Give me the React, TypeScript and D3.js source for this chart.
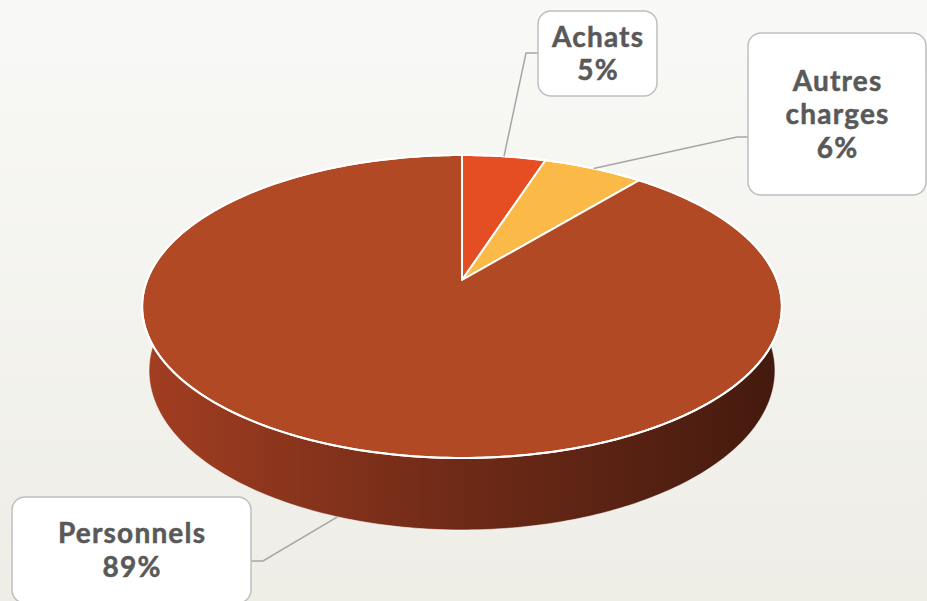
import React from "react";
import * as d3 from "d3";

const categories = ["Achats", "Autres charges", "Personnels"];
const values = [5, 6, 89];
const topColors = ["#E54D22", "#FBBA48", "#B14A24"];
const sideColors = [["#B83C1A", "#8A2A10"], ["#D79A30", "#A06A18"], ["#A33E21", "#431A0E"]];

// label box layout (pixels)
const boxes = [
  { x: 538, y: 11, w: 119, h: 85, elbow: [526, 53], join: [538, 53] },
  { x: 748, y: 33, w: 178, h: 162, elbow: [737, 137], join: [748, 137] },
  { x: 12, y: 497, w: 239, h: 106, elbow: [263, 561], join: [251, 561] },
];

const W = 927, HGT = 601;
const CX = 462, CY = 280;
const F = 1592, DIST = 5.055;
const PHI = Math.asin(0.4663);
const DEPTH = 0.2323;

function project(a: number, b: number, h: number): [number, number] {
  const X = a;
  const Y = b * Math.sin(PHI) + h * Math.cos(PHI);
  const Z = b * Math.cos(PHI) - h * Math.sin(PHI);
  return [CX + (F * X) / (DIST + Z), CY - (F * Y) / (DIST + Z)];
}

function arcPoints(a0: number, a1: number, h: number): [number, number][] {
  const n = Math.max(2, Math.ceil(((a1 - a0) / (Math.PI * 2)) * 360));
  const pts: [number, number][] = [];
  for (let i = 0; i <= n; i++) {
    const t = a0 + ((a1 - a0) * i) / n;
    pts.push(project(Math.sin(t), Math.cos(t), h));
  }
  return pts;
}

export default function App() {
  const pie = d3.pie<number>().sort(null).value((d) => d);
  const arcs = pie(values);
  const line = d3.line<[number, number]>().x((d) => d[0]).y((d) => d[1]);
  const center = project(0, 0, 0);
  const total = d3.sum(values);

  const walls = arcs.map((a, i) => {
    const top = arcPoints(a.startAngle, a.endAngle, 0);
    const bot = arcPoints(a.startAngle, a.endAngle, -DEPTH).reverse();
    return { i, d: line([...top, ...bot]) + "Z" };
  });
  const tops = arcs.map((a, i) => {
    const pts = arcPoints(a.startAngle, a.endAngle, 0);
    return { i, d: line([center, ...pts]) + "Z" };
  });
  const rim = line(arcPoints(0, Math.PI * 2, 0)) + "Z";
  const bottomRim = line(arcPoints(Math.PI / 2, Math.PI * 1.5, -DEPTH));

  const labels = arcs.map((a, i) => {
    const m = (a.startAngle + a.endAngle) / 2;
    const b = Math.cos(m);
    const anchor = project(Math.sin(m), b, b < -0.5 ? -DEPTH : 0);
    const pct = Math.round((values[i] / total) * 100) + "%";
    const lines = [...categories[i].split(" "), pct];
    return { i, anchor, lines };
  });

  return (
    <svg width={W} height={HGT} style={{ position: "absolute", left: 0, top: 0 }}>
      <defs>
        <linearGradient id="bg" x1="0" y1="0" x2="0" y2="1">
          <stop offset="0" stopColor="#F9F9F7" />
          <stop offset="1" stopColor="#EEEDE6" />
        </linearGradient>
        {sideColors.map((c, i) => (
          <linearGradient key={i} id={"side" + i} gradientUnits="userSpaceOnUse" x1={141} y1={0} x2={782} y2={0}>
            <stop offset="0" stopColor={c[0]} />
            <stop offset="0.5" stopColor={d3.interpolateRgb(c[0], c[1])(0.55)} />
            <stop offset="1" stopColor={c[1]} />
          </linearGradient>
        ))}
      </defs>
      <rect x={0} y={0} width={W} height={HGT} fill="url(#bg)" />
      {walls.map((w) => (
        <path key={"w" + w.i} d={w.d} fill={`url(#side${w.i})`} />
      ))}
      <path d={bottomRim} fill="none" stroke="#ffffff" strokeOpacity={0.5} strokeWidth={1} />
      {tops.map((t) => (
        <path key={"t" + t.i} d={t.d} fill={topColors[t.i]} stroke="#ffffff" strokeWidth={2} strokeLinejoin="round" />
      ))}
      <path d={rim} fill="none" stroke="#ffffff" strokeWidth={2} />
      {labels.map((l) => {
        const bx = boxes[l.i];
        const cyb = bx.y + bx.h / 2;
        const n = l.lines.length;
        return (
          <g key={"l" + l.i}>
            <polyline
              points={[l.anchor, bx.elbow, bx.join].map((p) => p.join(",")).join(" ")}
              fill="none"
              stroke="#A6A6A6"
              strokeWidth={1.5}
            />
            <rect x={bx.x} y={bx.y} width={bx.w} height={bx.h} rx={13} fill="#ffffff" stroke="#BFBFBF" strokeWidth={1.5} />
            {l.lines.map((s, j) => (
              <text
                key={j}
                x={bx.x + bx.w / 2 + 0.6}
                y={cyb + (j - (n - 1) / 2) * 33.5 + 10}
                textAnchor="middle"
                fontFamily="Lato, 'Open Sans', sans-serif"
                fontWeight={700}
                fontSize={28}
                letterSpacing={1.2}
                fill="#595959"
                stroke="#595959"
                strokeWidth={0.5}
              >
                {s}
              </text>
            ))}
          </g>
        );
      })}
    </svg>
  );
}
